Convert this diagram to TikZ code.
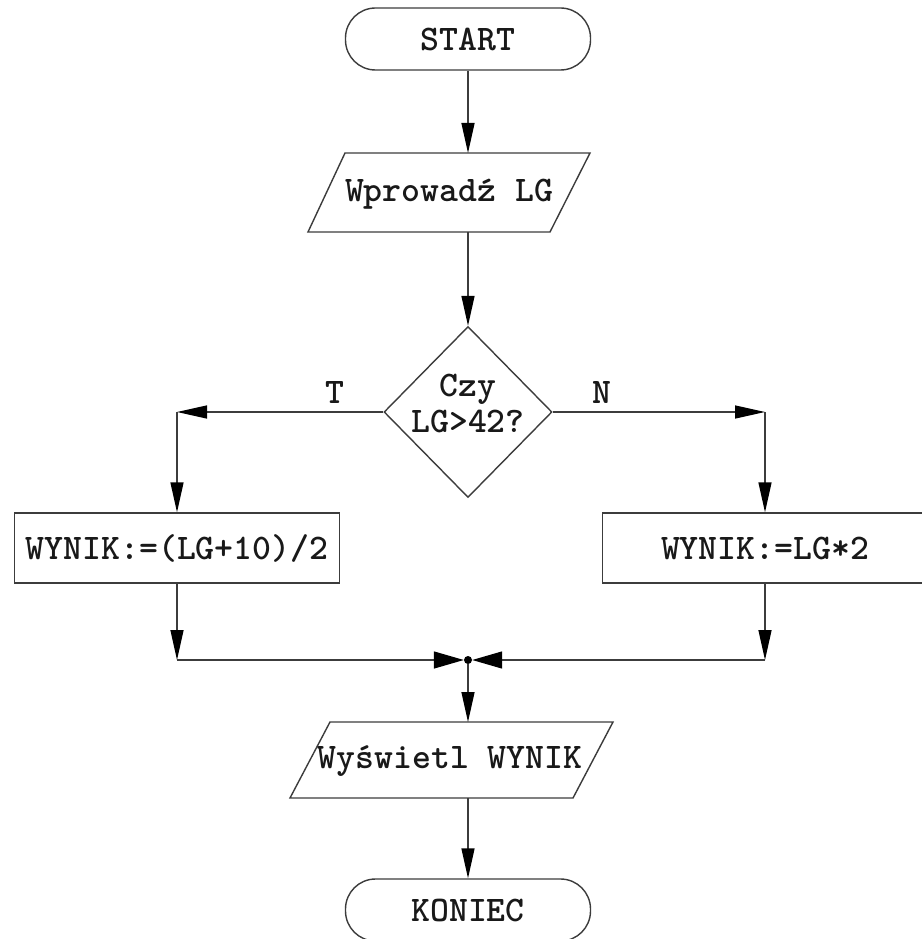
\documentclass[tikz,border=0pt]{standalone}
\usepackage{fontspec}
\usetikzlibrary{arrows.meta,shapes.geometric}
\definecolor{ln}{RGB}{60,60,60}
\definecolor{tx}{RGB}{25,25,25}
\begin{document}
\begin{tikzpicture}[x=1pt,y=-1pt,
  every node/.style={font=\ttfamily\bfseries\fontsize{36}{38}\selectfont, text=tx},
  line/.style={draw=ln, line width=1.4pt},
  arr/.style={line, -{Triangle[length=30pt,width=13pt,color=black]}},
  barr/.style={line, -{Triangle[length=30pt,width=17pt,color=black]}},
  term/.style={line, rectangle, rounded corners=30pt, minimum width=245pt, minimum height=62pt, inner sep=0pt},
  proc/.style={line, rectangle, minimum width=325pt, minimum height=70pt, inner sep=0pt},
  dec/.style={line, diamond, minimum width=168pt, minimum height=171pt, inner sep=0pt},
  dot/.style={circle, fill=black, minimum size=8pt, inner sep=0pt},
  lab/.style={inner sep=0pt}
]
\useasboundingbox[fill=white] (0,0) rectangle (921,939);

% START
\node[term] (start) at (468,39) {START};

% input parallelogram
\coordinate (inTL) at (345,153);
\coordinate (inTR) at (590,153);
\coordinate (inBR) at (550,232);
\coordinate (inBL) at (308,232);
\draw[line] (inTL) -- (inTR) -- (inBR) -- (inBL) -- cycle;
\node[lab] (intext) at (449,194) {Wprowadź LG};
\coordinate (inTop) at (468,153);
\coordinate (inBot) at (468,232);
\draw[arr] (start.south) -- (inTop);

% decision
\node[dec] (dec) at (468,412) {};
\node[lab, align=center] (dectext) at (468,403) {Czy\\[-2pt]LG>42?};
\draw[arr] (inBot) -- (dec.north);

\node[lab] (T) at (335,392) {T};
\node[lab] (N) at (602,392) {N};

% process boxes
\node[proc] (lbox) at (177,548) {WYNIK:=(LG+10)/2};
\node[proc] (rbox) at (765,548) {WYNIK:=LG*2};

\coordinate (lc) at (177,412);
\coordinate (rc) at (765,412);
\draw[arr] (dec.west) -- (lc);
\draw[arr] (lc) -- (lbox.north);
\draw[arr] (dec.east) -- (rc);
\draw[arr] (rc) -- (rbox.north);

% join
\node[dot] (j) at (468,660) {};
\coordinate (jl) at (177,660);
\coordinate (jr) at (765,660);
\draw[arr] (lbox.south) -- (jl);
\draw[arr] (rbox.south) -- (jr);
\draw[barr] (jl) -- (j);
\draw[barr] (jr) -- (j);

% output parallelogram
\coordinate (outTL) at (330,722);
\coordinate (outTR) at (613,722);
\coordinate (outBR) at (573,798);
\coordinate (outBL) at (290,798);
\draw[line] (outTL) -- (outTR) -- (outBR) -- (outBL) -- cycle;
\node[lab] (outtext) at (450,761) {Wyświetl WYNIK};
\coordinate (outTop) at (468,722);
\coordinate (outBot) at (468,798);
\draw[arr] (j) -- (outTop);

% KONIEC
\node[term] (end) at (468,910) {KONIEC};
\draw[arr] (outBot) -- (end.north);
\end{tikzpicture}
\end{document}
